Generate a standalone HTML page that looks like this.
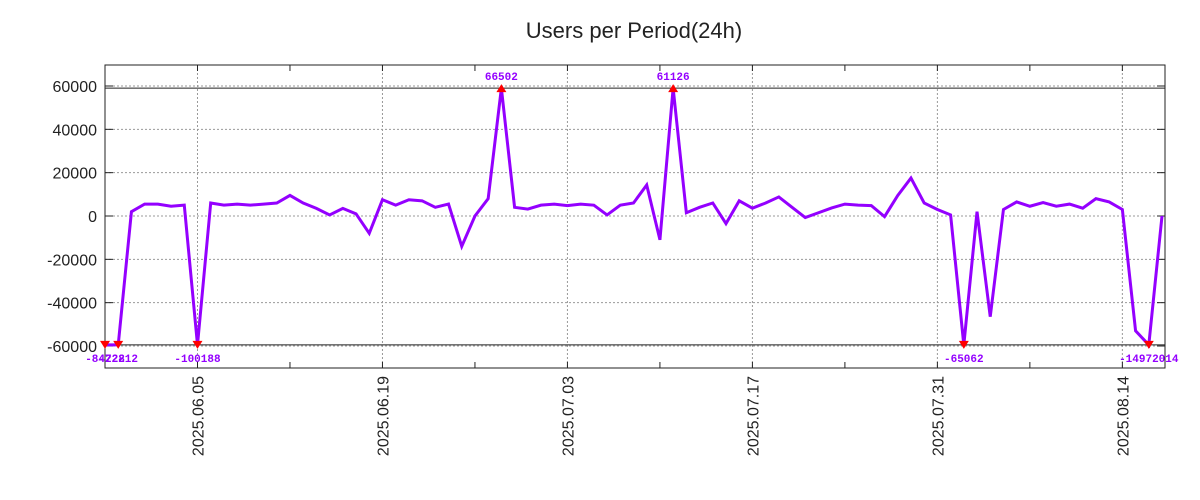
<!DOCTYPE html>
<html><head><meta charset="utf-8"><style>
body{margin:0;background:#fff;}
svg{display:block;font-family:"Liberation Sans",sans-serif;}
</style></head><body>
<svg id="chart" width="1200" height="500" viewBox="0 0 1200 500" xmlns="http://www.w3.org/2000/svg">
<rect width="1200" height="500" fill="#fff"/>
<text x="634" y="38" font-size="22" text-anchor="middle" fill="#222">Users per Period(24h)</text>
<g id="grid"></g><g id="axes"></g><g id="series"></g>
</svg>
<script>
const yTicks=[60000,40000,20000,0,-20000,-40000,-60000];
const xTickDays=[7,21,35,49,63,77];
const xTickLabels=["2025.06.05","2025.06.19","2025.07.03","2025.07.17","2025.07.31","2025.08.14"];
const values=[-84222,-72812,2000,5500,5500,4500,5000,-100188,6000,5000,5500,5000,5500,6000,9500,6000,3500,500,3500,1000,-8000,7500,5000,7500,7000,4000,5500,-14000,0,8000,66502,4000,3200,5000,5500,4800,5500,5000,500,5000,6000,14300,-11000,61126,1500,4000,6000,-3500,7000,3600,6000,8800,4000,-700,1500,3700,5500,5000,4800,-300,9500,17500,6000,3000,500,-65062,2000,-46500,3000,6500,4500,6200,4500,5500,3600,8000,6500,3000,-53000,-14972014,0];
const clipMax=59000, clipMin=-59500;
const NS="http://www.w3.org/2000/svg";
const L=105,R=1165,T=65,B=368;
const x=d=>L+d*(1162-L)/80;
const y=v=>216-v*130/60000;
function mk(tag,attrs,parent,txt){const e=document.createElementNS(NS,tag);for(const k in attrs)e.setAttribute(k,attrs[k]);if(txt!==undefined)e.textContent=txt;parent.appendChild(e);return e;}
const grid=document.getElementById('grid'),axes=document.getElementById('axes'),ser=document.getElementById('series');
yTicks.forEach(v=>{
 const g=mk('line',{x1:L,x2:R,y1:y(v),y2:y(v),stroke:'#999','stroke-dasharray':'2,2','stroke-width':1},grid);
 
 
 const t=mk('text',{x:97,y:y(v)+6,'font-size':16,'text-anchor':'end',fill:'#222'},axes,String(v));
 
 
 mk('line',{x1:L,x2:L+8,y1:y(v),y2:y(v),stroke:'#222'},axes);
 mk('line',{x1:R,x2:R-8,y1:y(v),y2:y(v),stroke:'#222'},axes);
});
xTickDays.forEach((d,i)=>{
 const g=mk('line',{x1:x(d),x2:x(d),y1:T,y2:B,stroke:'#999','stroke-dasharray':'2,2','stroke-width':1},grid);
 
 
 const t=mk('text',{transform:`translate(${x(d)+6},376) rotate(-90)`,'font-size':16,'text-anchor':'end',fill:'#222'},axes,xTickLabels[i]);
 
 
});
for(let d=0;d<=80;d+=7){const xd=x(d)+0;mk('line',{x1:xd,x2:xd,y1:B,y2:B-6,stroke:'#222'},axes);mk('line',{x1:xd,x2:xd,y1:T,y2:T+6,stroke:'#222'},axes);}
const box=mk('rect',{x:L,y:T,width:R-L,height:B-T,fill:'none',stroke:'#222','stroke-width':1},axes);


[clipMax,clipMin].forEach(v=>{const c=mk('line',{x1:L,x2:R,y1:y(v),y2:y(v),stroke:'#222','stroke-width':1},axes);
 
 });
const pts=values.map((v,i)=>[x(i),y(Math.max(clipMin,Math.min(clipMax,v)))]);
const line=mk('polyline',{points:pts.map(p=>p.join(',')).join(' '),fill:'none',stroke:'#9400ff','stroke-width':3,'stroke-linejoin':'miter'},ser);


values.forEach((v,i)=>{
 if(v>clipMax||v<clipMin){
  const up=v>clipMax, px=pts[i][0], py=pts[i][1];
  const m=mk('path',{d:up?`M${px-5},${py+4}L${px+5},${py+4}L${px},${py-4}Z`:`M${px-5},${py-4}L${px+5},${py-4}L${px},${py+4}Z`,fill:'#f00'},ser);
  
  
  const t=mk('text',{x:px,y:up?80:362,'font-size':11,'font-weight':'bold','font-family':'Liberation Mono, monospace','text-anchor':'middle',fill:'#9400ff'},ser,String(v));
  
  
 }
});
</script>
</body></html>
